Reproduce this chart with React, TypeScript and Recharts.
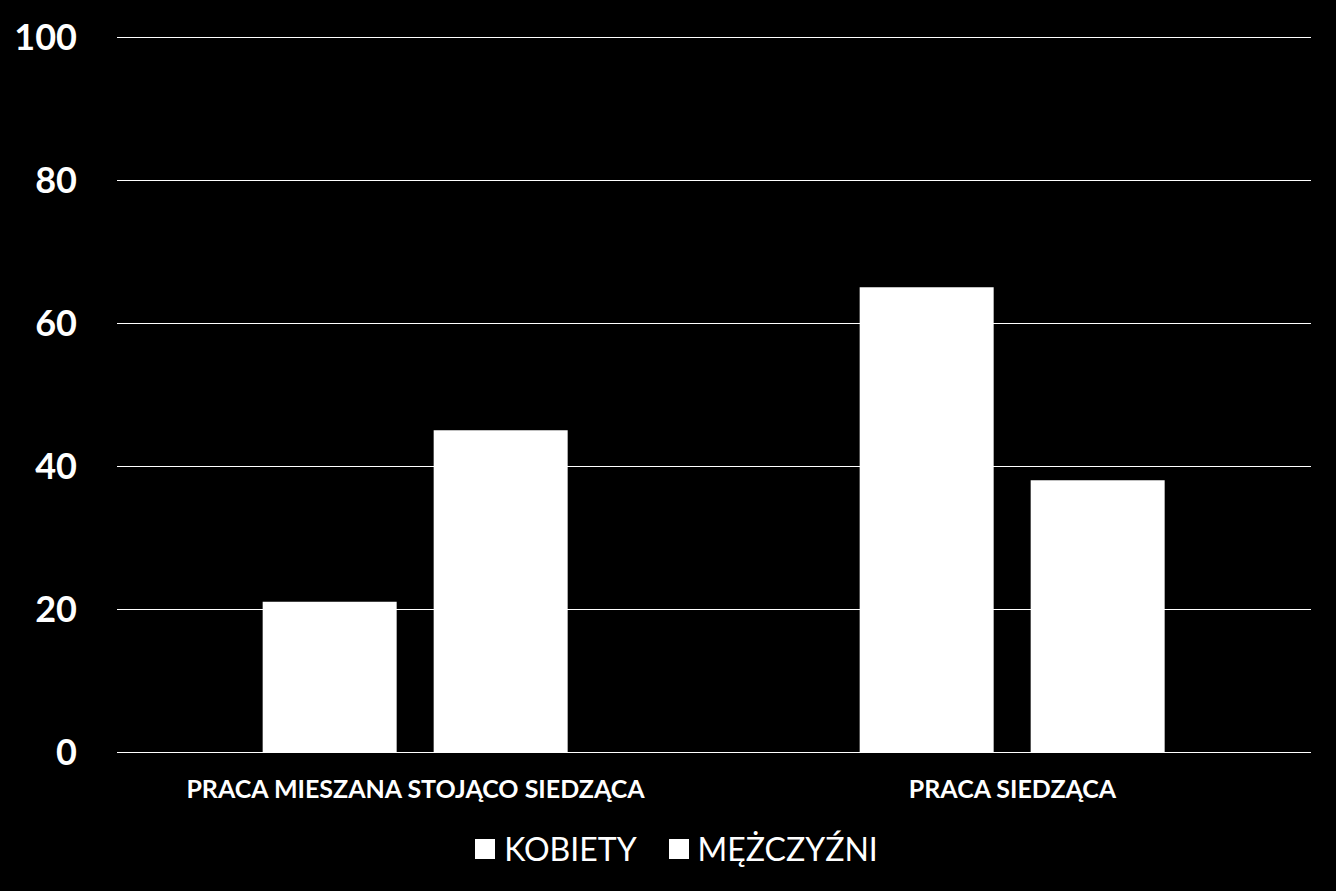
import { BarChart, Bar, CartesianGrid, XAxis, YAxis, Legend } from "recharts";

const categories = ["PRACA MIESZANA STOJĄCO SIEDZĄCA", "PRACA SIEDZĄCA"];
const kobiety = [21, 65];
const mezczyzni = [45, 38];
const yTicks = [0, 20, 40, 60, 80, 100];

const data = categories.map((name, i) => ({ name, kobiety: kobiety[i], mezczyzni: mezczyzni[i] }));

const renderLegend = (props: any) => {
  const { payload } = props;
  return (
    <div style={{ display: "flex", justifyContent: "center", alignItems: "center", paddingTop: 17, paddingLeft: 42 }}>
      {payload.map((entry: any, i: number) => (
        <div key={i} style={{ display: "flex", alignItems: "center", marginLeft: i > 0 ? 32 : 0 }}>
          <span style={{ display: "inline-block", width: 20, height: 20, background: entry.color, marginRight: 9 }} />
          <span style={{ color: "#fff", fontSize: 32, fontFamily: "Lato" }}>{entry.value}</span>
        </div>
      ))}
    </div>
  );
};

export default function App() {
  return (
    <div style={{ position: "absolute", top: 0, left: 0, width: 1336, height: 891, background: "#000" }}>
      <BarChart
        width={1336}
        height={891}
        data={data}
        margin={{ top: 37, right: 25, bottom: 20, left: 0 }}
        barCategoryGap="24.4%"
        barGap={37}
      >
        <CartesianGrid horizontal vertical={false} stroke="#fff" strokeWidth={1} shapeRendering="crispEdges" />
        <XAxis
          dataKey="name"
          axisLine={{ stroke: "#fff", shapeRendering: "crispEdges" }}
          tickLine={false}
          tickSize={0}
          tickMargin={28}
          height={60}
          tick={{ fill: "#fff", fontSize: 25, fontWeight: 700, fontFamily: "Lato" }}
        />
        <YAxis
          domain={[0, 100]}
          ticks={yTicks}
          width={117}
          axisLine={false}
          tickLine={false}
          tickSize={0}
          tickMargin={40}
          tick={{ fill: "#fff", fontSize: 36, fontWeight: 700, fontFamily: "Lato" }}
        />
        <Legend verticalAlign="bottom" content={renderLegend} wrapperStyle={{ height: 59 }} />
        <Bar dataKey="kobiety" name="KOBIETY" fill="#fff" isAnimationActive={false} />
        <Bar dataKey="mezczyzni" name="MĘŻCZYŹNI" fill="#fff" isAnimationActive={false} />
      </BarChart>
    </div>
  );
}
